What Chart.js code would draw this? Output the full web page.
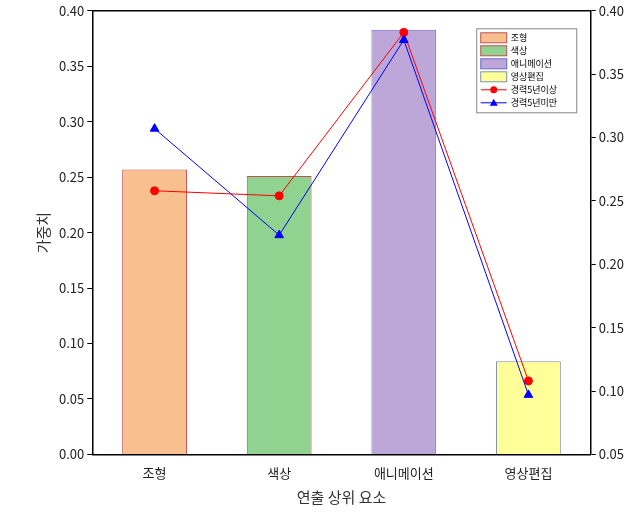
<!DOCTYPE html><html><head><meta charset="utf-8"><script src="https://cdn.jsdelivr.net/npm/chart.js@4/dist/chart.umd.min.js"></script>
<style>body{margin:0;background:#fff}#w{width:643px;height:514px}</style></head><body><div id="w"><canvas id="c"></canvas></div>
<script>
const categories=['조형','색상','애니메이션','영상편집'];
const barValues=[0.257,0.251,0.383,0.084];
const over5=[0.258,0.254,0.383,0.108];
const under5=[0.307,0.223,0.377,0.097];
const lineLabels=['경력5년이상','경력5년미만'];
const barFill=['#F9C08F','#90D290','#BCA7D8','#FFFF99'];
const barBorder=['#C0504D','#C0504D','#6A6AC8','#8090B0'];
const ff='"Noto Sans CJK KR", sans-serif';
const font={family:ff,size:13};
new Chart(document.getElementById('c'),{data:{labels:categories,datasets:[
{type:'bar',label:'bars',data:barValues,backgroundColor:barFill,borderColor:barBorder,borderWidth:1,yAxisID:'y',barPercentage:0.52,categoryPercentage:1,order:2},
{type:'line',label:lineLabels[0],data:over5,borderColor:'#FF0000',backgroundColor:'#FF0000',pointStyle:'circle',pointRadius:4,borderWidth:1,yAxisID:'y2',order:1},
{type:'line',label:lineLabels[1],data:under5,borderColor:'#0000FF',backgroundColor:'#0000FF',pointStyle:'triangle',pointRadius:5,borderWidth:1,yAxisID:'y2',order:0}]},
options:{responsive:true,maintainAspectRatio:false,animation:false,layout:{padding:{top:8,right:16,bottom:4,left:30}},
plugins:{legend:{display:false},tooltip:{enabled:false}},
scales:{
x:{border:{color:'#000',width:1.5},grid:{display:false},ticks:{font,color:'#222'},title:{display:true,text:'연출 상위 요소',font:{...font,size:15},color:'#333'}},
y:{min:0,max:0.40,border:{color:'#000',width:1.5},grid:{drawOnChartArea:false,tickLength:5,color:'#000'},ticks:{stepSize:0.05,font,color:'#222',callback:v=>v.toFixed(2)},title:{display:true,text:'가중치',font:{...font,size:15},color:'#333'}},
y2:{position:'right',min:0.05,max:0.40,border:{color:'#000',width:1.5},grid:{drawOnChartArea:false,tickLength:5,color:'#000'},ticks:{stepSize:0.05,font,color:'#222',callback:v=>v.toFixed(2)}}
}},
plugins:[{id:'frame',afterDraw(ch){const a=ch.chartArea,x=ch.ctx;x.save();x.strokeStyle='#000';x.lineWidth=1.5;x.beginPath();x.moveTo(a.left,a.top);x.lineTo(a.right,a.top);x.stroke();
const lx=a.right-114,ly=a.top+18,rh=13;
x.lineWidth=1;x.strokeStyle='#888';x.fillStyle='#fff';x.fillRect(lx,ly,100,rh*6+6);x.strokeRect(lx,ly,100,rh*6+6);
x.font='9px '+ff;x.textBaseline='middle';
categories.forEach((c,i)=>{const yy=ly+4+i*rh;x.fillStyle=barFill[i];x.fillRect(lx+4,yy,26,10);x.strokeStyle=barBorder[i];x.strokeRect(lx+4,yy,26,10);x.fillStyle='#000';x.fillText(c,lx+34,yy+5);});
lineLabels.forEach((c,i)=>{const yy=ly+4+(4+i)*rh+5,col=i?'#0000FF':'#FF0000';x.strokeStyle=col;x.fillStyle=col;x.beginPath();x.moveTo(lx+4,yy);x.lineTo(lx+30,yy);x.stroke();x.beginPath();if(i){x.moveTo(lx+17,yy-4);x.lineTo(lx+21,yy+3);x.lineTo(lx+13,yy+3);x.closePath();}else x.arc(lx+17,yy,3.5,0,7);x.fill();x.fillStyle='#000';x.fillText(c,lx+34,yy);});
x.restore();}}]
});
</script></body></html>
